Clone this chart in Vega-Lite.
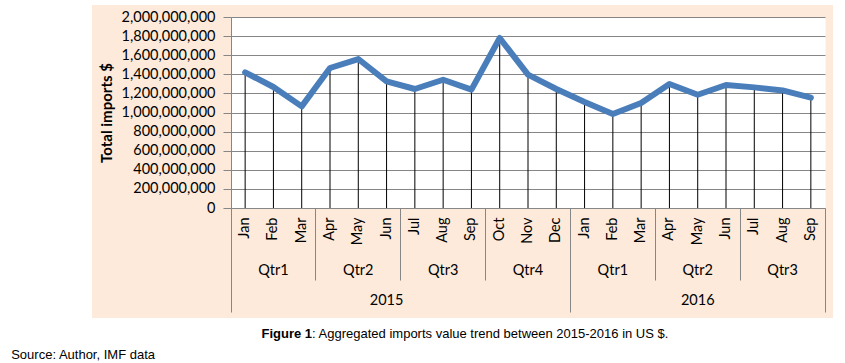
{
  "$schema": "https://vega.github.io/schema/vega-lite/v6.json",
  "width": 741,
  "height": 313,
  "autosize": {"type": "none"},
  "padding": {"left": 92, "top": 5, "right": 12, "bottom": 45},
  "background": "white",
  "config": {
    "view": {"fill": "#FDEADA", "stroke": null},
    "axis": {"labelFont": "Lato", "labelFontSize": 14.5, "labelColor": "#000", "titleFont": "Lato", "titleColor": "#000", "zindex": 0}
  },
  "data": {
    "values": [
      {"key": "2015-01", "Year": "2015", "Quarter": "Qtr1", "Month": "Jan", "Imports": 1420000000},
      {"key": "2015-02", "Year": "2015", "Quarter": "Qtr1", "Month": "Feb", "Imports": 1267000000},
      {"key": "2015-03", "Year": "2015", "Quarter": "Qtr1", "Month": "Mar", "Imports": 1064000000},
      {"key": "2015-04", "Year": "2015", "Quarter": "Qtr2", "Month": "Apr", "Imports": 1466000000},
      {"key": "2015-05", "Year": "2015", "Quarter": "Qtr2", "Month": "May", "Imports": 1560000000},
      {"key": "2015-06", "Year": "2015", "Quarter": "Qtr2", "Month": "Jun", "Imports": 1326000000},
      {"key": "2015-07", "Year": "2015", "Quarter": "Qtr3", "Month": "Jul", "Imports": 1246000000},
      {"key": "2015-08", "Year": "2015", "Quarter": "Qtr3", "Month": "Aug", "Imports": 1343000000},
      {"key": "2015-09", "Year": "2015", "Quarter": "Qtr3", "Month": "Sep", "Imports": 1239000000},
      {"key": "2015-10", "Year": "2015", "Quarter": "Qtr4", "Month": "Oct", "Imports": 1780000000},
      {"key": "2015-11", "Year": "2015", "Quarter": "Qtr4", "Month": "Nov", "Imports": 1396000000},
      {"key": "2015-12", "Year": "2015", "Quarter": "Qtr4", "Month": "Dec", "Imports": 1246000000},
      {"key": "2016-01", "Year": "2016", "Quarter": "Qtr1", "Month": "Jan", "Imports": 1110000000},
      {"key": "2016-02", "Year": "2016", "Quarter": "Qtr1", "Month": "Feb", "Imports": 984000000},
      {"key": "2016-03", "Year": "2016", "Quarter": "Qtr1", "Month": "Mar", "Imports": 1100000000},
      {"key": "2016-04", "Year": "2016", "Quarter": "Qtr2", "Month": "Apr", "Imports": 1298000000},
      {"key": "2016-05", "Year": "2016", "Quarter": "Qtr2", "Month": "May", "Imports": 1186000000},
      {"key": "2016-06", "Year": "2016", "Quarter": "Qtr2", "Month": "Jun", "Imports": 1288000000},
      {"key": "2016-07", "Year": "2016", "Quarter": "Qtr3", "Month": "Jul", "Imports": 1263000000},
      {"key": "2016-08", "Year": "2016", "Quarter": "Qtr3", "Month": "Aug", "Imports": 1231000000},
      {"key": "2016-09", "Year": "2016", "Quarter": "Qtr3", "Month": "Sep", "Imports": 1155000000}
    ]
  },
  "resolve": {"scale": {"x": "shared", "y": "shared"}, "axis": {"x": "independent", "y": "independent"}},
  "layer": [
    {
      "mark": {"type": "point", "opacity": 0, "filled": true},
      "encoding": {
        "x": {
          "field": "key", "type": "ordinal",
          "scale": {"range": [139, 733], "paddingInner": 0, "paddingOuter": 0},
          "axis": {
            "orient": "bottom", "offset": -110,
            "labelExpr": "['Jan','Feb','Mar','Apr','May','Jun','Jul','Aug','Sep','Oct','Nov','Dec'][toNumber(substring(datum.value,5,7))-1]",
            "labelAngle": 270, "labelPadding": 9, "labelOverlap": false,
            "ticks": false, "tickSize": 0, "domain": true, "domainColor": "#868686", "domainWidth": 1,
            "grid": false, "title": null
          }
        },
        "y": {
          "datum": 1000000000, "type": "quantitative",
          "scale": {"domain": [0, 2000000000], "range": [203, 12], "nice": false},
          "axis": {
            "orient": "left", "values": [1000000000], "grid": true, "gridColor": "white", "gridOpacity": 1,
            "gridWidth": 191, "labels": false, "ticks": false, "domain": false, "title": null
          }
        }
      }
    },
    {
      "mark": {"type": "rule", "color": "#000", "strokeWidth": 1},
      "encoding": {
        "x": {
          "field": "key", "type": "ordinal",
          "axis": {
            "orient": "bottom", "offset": -110,
            "values": ["2015-02", "2015-05", "2015-08", "2015-11", "2016-02", "2016-05", "2016-08"],
            "labelExpr": "'Qtr' + ceil(toNumber(substring(datum.value,5,7))/3)",
            "labelAngle": 0, "labelAlign": "center", "labelBaseline": "middle", "labelPadding": 62,
            "labelOverlap": false, "ticks": false, "tickSize": 0, "domain": false, "grid": false,
            "title": "Figure 1", "titleFont": "Liberation Sans", "titleFontSize": 13, "titleFontWeight": "bold",
            "titleX": 169, "titleY": 129.7, "titleAlign": "left", "titleBaseline": "alphabetic", "titleAngle": 0
          }
        },
        "y": {
          "field": "Imports", "type": "quantitative",
          "axis": {
            "orient": "left", "offset": -139,
            "values": [0, 200000000, 400000000, 600000000, 800000000, 1000000000, 1200000000, 1400000000, 1600000000, 1800000000, 2000000000],
            "format": ",d", "grid": true, "gridColor": "#868686", "gridWidth": 1,
            "domain": true, "domainColor": "#868686", "ticks": true, "tickColor": "#868686", "tickSize": 8,
            "labelPadding": 8, "labelOverlap": false,
            "title": "Total imports $", "titleFontSize": 15, "titleFontWeight": "bold", "titlePadding": 7
          }
        },
        "y2": {"datum": 0}
      }
    },
    {
      "mark": {"type": "line", "color": "#4A7EBB", "strokeWidth": 6, "strokeCap": "round", "strokeJoin": "round"},
      "encoding": {
        "x": {
          "field": "key", "type": "ordinal",
          "axis": {
            "orient": "bottom", "offset": -110, "values": ["2015-06"], "bandPosition": 1,
            "labelExpr": "substring(datum.value,0,4)",
            "labelAngle": 0, "labelAlign": "center", "labelBaseline": "middle", "labelPadding": 92,
            "labelOverlap": false, "ticks": false, "tickSize": 0, "domain": false, "grid": false,
            "title": ": Aggregated imports value trend between 2015-2016 in US $.", "titleFont": "Liberation Sans",
            "titleFontSize": 13, "titleFontWeight": "normal",
            "titleX": 219.6, "titleY": 129.7, "titleAlign": "left", "titleBaseline": "alphabetic", "titleAngle": 0
          }
        },
        "y": {"field": "Imports", "type": "quantitative", "axis": null}
      }
    },
    {
      "mark": {"type": "rule", "opacity": 0},
      "encoding": {
        "x": {
          "field": "key", "type": "ordinal",
          "axis": {
            "orient": "bottom", "offset": -110, "values": ["2016-05"], "bandPosition": 0.5,
            "labelExpr": "substring(datum.value,0,4)",
            "labelAngle": 0, "labelAlign": "center", "labelBaseline": "middle", "labelPadding": 92,
            "labelOverlap": false, "ticks": false, "tickSize": 0, "domain": false, "grid": false,
            "title": "Source: Author, IMF data", "titleFont": "Liberation Sans", "titleFontSize": 13,
            "titleFontWeight": "normal",
            "titleX": -81.3, "titleY": 150.3, "titleAlign": "left", "titleBaseline": "alphabetic", "titleAngle": 0
          }
        }
      }
    },
    {
      "mark": {"type": "rule", "opacity": 0},
      "encoding": {
        "x": {
          "field": "key", "type": "ordinal",
          "axis": {
            "orient": "bottom", "offset": -110,
            "values": ["2015-04", "2015-07", "2015-10", "2016-04", "2016-07"], "bandPosition": 0,
            "labels": false, "ticks": true, "tickSize": 72, "tickColor": "#868686", "tickWidth": 1,
            "domain": false, "grid": false, "title": null
          }
        }
      }
    },
    {
      "mark": {"type": "rule", "opacity": 0},
      "encoding": {
        "x": {
          "field": "key", "type": "ordinal",
          "axis": {
            "orient": "bottom", "offset": -110,
            "values": ["2015-01", "2016-01"], "bandPosition": 0,
            "labels": false, "ticks": true, "tickSize": 104, "tickColor": "#868686", "tickWidth": 1,
            "domain": false, "grid": false, "title": null
          }
        }
      }
    },
    {
      "mark": {"type": "rule", "opacity": 0},
      "encoding": {
        "x": {
          "field": "key", "type": "ordinal",
          "axis": {
            "orient": "bottom", "offset": -110,
            "values": ["2016-09"], "bandPosition": 1,
            "labels": false, "ticks": true, "tickSize": 104, "tickColor": "#868686", "tickWidth": 1,
            "domain": false, "grid": false, "title": null
          }
        }
      }
    }
  ]
}
